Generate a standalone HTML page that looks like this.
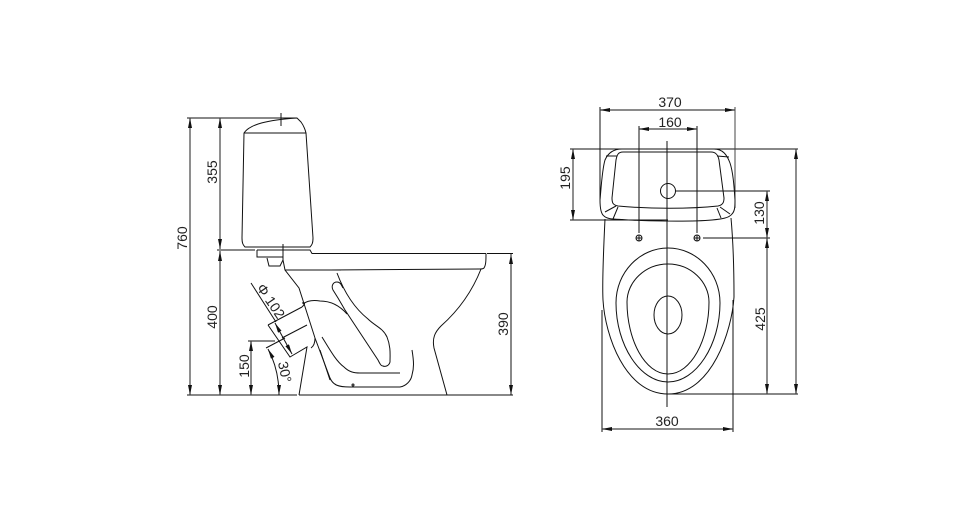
<!DOCTYPE html>
<html><head><meta charset="utf-8"><style>
html,body{margin:0;padding:0;background:#fff}
svg{display:block}
text{font-family:"Liberation Sans",sans-serif;font-size:14px;fill:#222;text-anchor:middle;dominant-baseline:central}
.l{fill:none;stroke:#111;stroke-width:1}
.g{fill:none;stroke:#444;stroke-width:1.2}
.a{fill:#111;stroke:none}
</style></head><body>
<svg width="977" height="528" viewBox="0 0 977 528" xmlns="http://www.w3.org/2000/svg">
<defs>
<marker id="m" viewBox="0 0 10 4" refX="10" refY="2" markerWidth="10" markerHeight="4" markerUnits="userSpaceOnUse" orient="auto-start-reverse"><path d="M0 0L10 2L0 4Z" fill="#111"/></marker>
</defs>
<!-- side view -->
<g class="l">
<path d="M187 118H297"/>
<path d="M244 133C250 124 268 120 297 118L301 122C304 126 305 129 306 133L313 238C313 243 312 245 310 247H245C243 245 242 243 242 238L244 133Z"/>
<path d="M244 133H306"/>
<path d="M281 113V126"/>
<path d="M217 250H255M257 250H310L312 253.5H486"/>
<path d="M245 247H310"/>
<path d="M257 250V257H283"/>
<path d="M283 244V260"/>
<path d="M267 258L269 266H280L283 260"/>
<path d="M283 260L285 270L299 288L315 338L330 378C333 385 338 387 350 387H400C406 386 411 381 412 375C414 368 414 362 412 350"/>
<path d="M285 270H341"/>
<path d="M486 253.5C486 260 486 265 484 268C483 269 482 269 480 269L330 270"/>
<path d="M481 269C472 292 459 310 441 326C435 332 432 338 434 348L447 395"/>
<path d="M487 253.5H513"/>
<path d="M187 395H297M299 395H513"/>
<path d="M268 325L302 307M268 325L290 357L307 347L299 395"/>
<path d="M282 338L307 325"/>
<path d="M251 283L276 322"/>
<path d="M302 307C305 304 306 302 302 303"/>
<path d="M303 304C308 300 314 300 320 301C331 301 340 306 347 314"/>
<path d="M311 348C314 346 315 342 315 338"/>
<path d="M248 341H275"/>
<path d="M266 348L285 338"/>
<path d="M337 273C343 289 353 307 368 319C375 326 383 328 387 337C391 347 390 355 390 362C389 366 385 367 383 366C381 366 380 364 378 360L345 310L338 298L333 290C331 286 333 282 337 282C340 282 341 284 343 288"/>
<path d="M322 337C330 350 336 361 344 367C349 372 354 373 360 373H400"/>
<path d="M320 350L330 380"/>
<circle cx="353" cy="385" r="1"/>
</g>
<g class="g">
<path d="M190 118V395" marker-start="url(#m)" marker-end="url(#m)"/>
<path d="M220 118V249" marker-start="url(#m)" marker-end="url(#m)"/>
<path d="M220 251V395" marker-start="url(#m)" marker-end="url(#m)"/>
<path d="M251 341V395" marker-start="url(#m)" marker-end="url(#m)"/>
</g>
<g class="l">
<path d="M275 323L292 354" marker-start="url(#m)" marker-end="url(#m)"/>
<path d="M268 349C275 362 279 378 279 395" marker-start="url(#m)" marker-end="url(#m)"/>
<path d="M511 254V395" marker-start="url(#m)" marker-end="url(#m)"/>
</g>
<text x="182" y="238" transform="rotate(-90 182 238)">760</text>
<text x="212" y="172" transform="rotate(-90 212 172)">355</text>
<text x="212" y="317" transform="rotate(-90 212 317)">400</text>
<text x="244" y="366" transform="rotate(-90 244 366)">150</text>
<text x="503" y="324" transform="rotate(-90 503 324)">390</text>
<text x="271" y="301" transform="rotate(56 271 301)">&#934; 102</text>
<text x="285" y="372" transform="rotate(78 285 372)">30°</text>
<!-- top view -->
<g class="l">
<path d="M570 149H798"/>
<path d="M667 141V407"/>
<path d="M600 107V200"/>
<path d="M735 107V208" stroke="#444"/>
<path d="M639 126V233M697 126V233"/>
<path d="M622 149C614 149 608 153 605 160C602 170 601 190 600 200C600 208 601 214 604 216C607 219 612 219 622 219.500C640 221 690 222 712 220C722 219 729 218 732 214C735 211 735 206 735 200C734 185 733 172 730 163C727 155 723 149 714 149Z"/>
<path d="M623 152C618 152 617 155 616 160L612 198C612 203 613 205 618 206C650 209 690 209 718 206C723 205 724 202 724 198L719 160C718 155 716 152 711 152Z"/>
<path d="M606 156L617 156M717 156L729 157"/>
<path d="M605 212L616 206M613 219L618 207M720 207L730 214M717 208L721 218"/>
<path d="M570 220H668"/>
<circle cx="668" cy="191" r="7.500"/>
<path d="M675 191H770"/>
<circle cx="639" cy="238" r="3"/><circle cx="697" cy="238" r="3"/>
<path d="M636 238H642M639 235V241M694 238H700M697 235V241"/>
<path d="M703 238H770"/>
<path d="M605 219C604 240 602 280 603 300C605 335 625 394 668 394C712 394 732 330 734 297C734 270 733 240 731 218"/>
<path d="M668 394H798"/>
<path d="M668 248C640 248 616 272 616 303C616 345 640 382 668 382C696 382 720 345 720 303C720 272 696 248 668 248Z"/>
<path d="M668 264C645 264 627 282 627 302C627 340 645 374 668 374C691 374 709 340 709 302C709 282 691 264 668 264Z"/>
<ellipse cx="668" cy="315" rx="14" ry="19"/>
<path d="M602 310V432M733 300V432"/>
</g>
<g class="g">
<path d="M600 110H735" marker-start="url(#m)" marker-end="url(#m)"/>
<path d="M639 129H697" marker-start="url(#m)" marker-end="url(#m)"/>
<path d="M573 149V220" marker-start="url(#m)" marker-end="url(#m)"/>
<path d="M767 191V238" marker-start="url(#m)" marker-end="url(#m)"/>
<path d="M767 238V394" marker-start="url(#m)" marker-end="url(#m)"/>
<path d="M796 149V394" marker-start="url(#m)" marker-end="url(#m)"/>
<path d="M602 429H733" marker-start="url(#m)" marker-end="url(#m)"/>
</g>
<text x="670" y="102">370</text>
<text x="670" y="122">160</text>
<text x="667" y="421">360</text>
<text x="565" y="178" transform="rotate(-90 565 178)">195</text>
<text x="759" y="213" transform="rotate(-90 759 213)">130</text>
<text x="760" y="319" transform="rotate(-90 760 319)">425</text>
</svg>
</body></html>
